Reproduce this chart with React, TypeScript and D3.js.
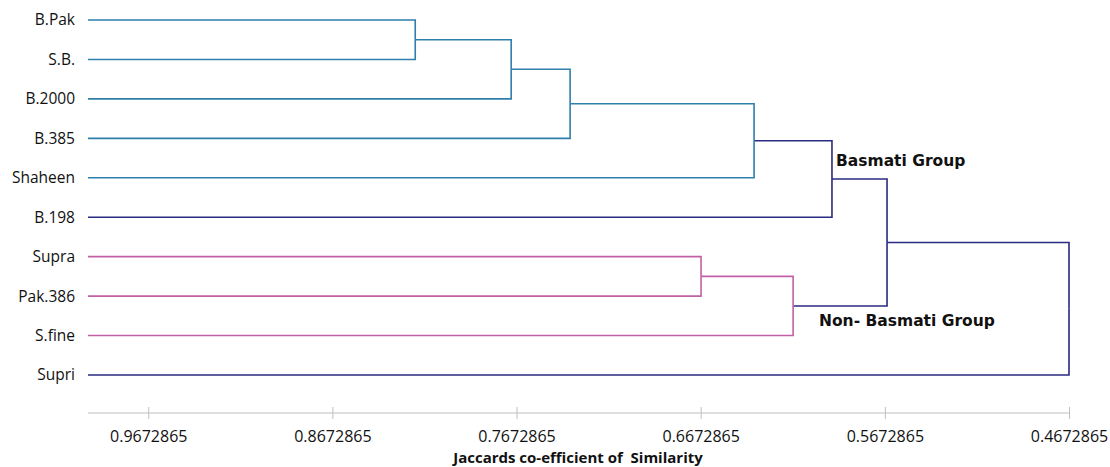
import React, { useEffect, useRef } from 'react';
import * as d3 from 'd3';

// leaf order top to bottom
const cultivars = ['B.Pak', 'S.B.', 'B.2000', 'B.385', 'Shaheen', 'B.198', 'Supra', 'Pak.386', 'S.fine', 'Supri'];
const cultivarGroup = ['basmati', 'basmati', 'basmati', 'basmati', 'basmati', 'other', 'nonBasmati', 'nonBasmati', 'nonBasmati', 'other'];

// merges: [left id, right id, similarity]; ids >= 10 are earlier merges (10 + index)
const merges: [number, number, number][] = [
  [0, 1, 0.8223],
  [10, 2, 0.7702],
  [11, 3, 0.7382],
  [12, 4, 0.6383],
  [13, 5, 0.596],
  [6, 7, 0.6671],
  [15, 8, 0.6171],
  [14, 16, 0.5661],
  [17, 9, 0.4672865],
];

const tickValues = [0.9672865, 0.8672865, 0.7672865, 0.6672865, 0.5672865, 0.4672865];
const colorCut = 0.6;

const groupColors: Record<string, string> = {
  basmati: '#2f7fab',
  nonBasmati: '#c260a6',
  other: '#2a2a82',
};

type TreeNode = { name: string; sim: number; leafIndex?: number; children?: TreeNode[] };

const App = () => {
  const svgRef = useRef<SVGSVGElement>(null);

  useEffect(() => {
    const svg = d3.select(svgRef.current);
    svg.selectAll('*').remove();

    const nodes: TreeNode[] = cultivars.map((c, i) => ({ name: c, sim: 1, leafIndex: i }));
    merges.forEach(([a, b, s], i) => {
      nodes.push({ name: 'm' + i, sim: s, children: [nodes[a], nodes[b]] });
    });
    const root = d3.hierarchy<TreeNode>(nodes[nodes.length - 1]);

    const x = d3.scaleLinear().domain([1, 0.4672865]).range([88, 1069]);
    const y = d3.scalePoint<string>().domain(cultivars).range([20, 375]);

    // vertical position: leaves from scale, internal nodes at midpoint of children
    const ypos = new Map<d3.HierarchyNode<TreeNode>, number>();
    root.eachAfter(n => {
      if (!n.children) ypos.set(n, y(n.data.name)!);
      else ypos.set(n, d3.mean(n.children, c => ypos.get(c)!)!);
    });

    const nodeColor = (n: d3.HierarchyNode<TreeNode>) => {
      if (n.data.sim < colorCut) return groupColors.other;
      const groups = new Set(n.leaves().map(l => cultivarGroup[l.data.leafIndex!]));
      return groups.size === 1 ? groupColors[[...groups][0]] : groupColors.other;
    };

    // axis
    const axisY = 413;
    const axis = svg.append('g')
      .attr('transform', `translate(0,${axisY})`)
      .call(d3.axisBottom(x).tickValues(tickValues).tickSize(6).tickPadding(12).tickFormat(d => String(d)));
    axis.select('.domain').attr('stroke', '#bfbfbf').attr('stroke-width', 1.2).attr('d', `M88,0H1069`);
    axis.selectAll('.tick line').attr('stroke', '#bfbfbf').attr('y1', -6).attr('y2', 6);
    axis.selectAll('.tick text')
      .attr('fill', '#111')
      .style('font-family', '"Open Sans", sans-serif')
      .style('font-size', '16px');

    // links: each child elbow coloured by its parent
    const g = svg.append('g').attr('fill', 'none').attr('stroke-width', 1.6);
    root.descendants().forEach(n => {
      if (!n.children) return;
      const px = x(n.data.sim);
      const col = nodeColor(n);
      n.children.forEach(c => {
        const cx = x(c.data.sim);
        const cy = ypos.get(c)!;
        g.append('path')
          .attr('d', `M${cx},${cy}H${px}V${ypos.get(n)}`)
          .attr('stroke', col);
      });
    });

    // leaf labels
    svg.append('g')
      .selectAll('text')
      .data(cultivars)
      .join('text')
      .attr('x', 75)
      .attr('y', d => y(d)!)
      .attr('dy', '0.35em')
      .attr('text-anchor', 'end')
      .attr('fill', '#111')
      .style('font-family', '"Open Sans", sans-serif')
      .style('font-size', '15.5px')
      .text(d => d);

    // group annotations
    const notes = [
      { text: 'Basmati Group', x: 836, y: 166 },
      { text: 'Non- Basmati Group', x: 819, y: 326 },
    ];
    svg.append('g')
      .selectAll('text')
      .data(notes)
      .join('text')
      .attr('x', d => d.x)
      .attr('y', d => d.y)
      .attr('fill', '#111')
      .style('font-family', '"DejaVu Sans", sans-serif')
      .style('font-weight', 'bold')
      .style('font-size', '15.5px')
      .text(d => d.text);

    svg.append('text')
      .attr('x', 578)
      .attr('y', 463)
      .attr('text-anchor', 'middle')
      .attr('fill', '#111')
      .style('font-family', '"Open Sans", sans-serif')
      .style('font-weight', 'bold')
      .style('font-size', '15px')
      .style('white-space', 'pre')
      .text('Jaccards co-efficient of  Similarity');
  }, []);

  return (
    <svg
      ref={svgRef}
      width={1110}
      height={467}
      style={{ position: 'absolute', left: 0, top: 0, background: '#fff' }}
    />
  );
};

export default App;
